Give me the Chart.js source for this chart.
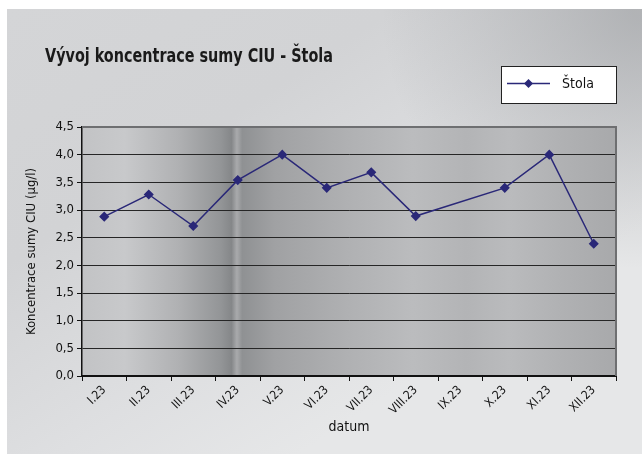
<!DOCTYPE html>
<html>
<head>
<meta charset="utf-8">
<script src="https://cdn.jsdelivr.net/npm/chart.js@4"></script>
<style>
  html, body { margin: 0; padding: 0; background: #fff; }
  #wrap { width: 642px; height: 454px; }
</style>
</head>
<body>
<div id="wrap"><canvas id="chart" width="642" height="454"></canvas></div>
<script>
const months = ['I.23', 'II.23', 'III.23', 'IV.23', 'V.23', 'VI.23', 'VII.23', 'VIII.23', 'IX.23', 'X.23', 'XI.23', 'XII.23'];
const stolaValues = [2.88, 3.28, 2.71, 3.54, 4.0, 3.4, 3.68, 2.89, null, 3.4, 4.0, 2.39];
const seriesName = 'Štola';
const chartTitle = 'Vývoj koncentrace sumy CIU - Štola';

const FONT = "'Liberation Sans Narrow', 'DejaVu Sans Condensed', sans-serif";
const LINE = '#2a2878';

// background, plot gradient, title and the boxed legend
const decor = {
    id: 'decor',
    beforeDraw(chart) {
        const { ctx, chartArea: a } = chart;
        ctx.save();
        ctx.fillStyle = '#fff';
        ctx.fillRect(0, 0, chart.width, chart.height);

        const bg = ctx.createLinearGradient(7, 9, 300, 454);
        bg.addColorStop(0, '#d4d5d7');
        bg.addColorStop(0.4, '#d2d3d5');
        bg.addColorStop(0.75, '#dedfe1');
        bg.addColorStop(1, '#e6e7e8');
        ctx.fillStyle = bg;
        ctx.fillRect(7, 9, 635, 445);
        const tr = ctx.createRadialGradient(642, 9, 10, 642, 9, 260);
        tr.addColorStop(0, 'rgba(160,162,165,0.7)');
        tr.addColorStop(1, 'rgba(160,162,165,0)');
        ctx.fillStyle = tr;
        ctx.fillRect(7, 9, 635, 445);

        const g = ctx.createLinearGradient(a.left, 0, a.right, 0);
        g.addColorStop(0.0, '#c2c3c5');
        g.addColorStop(0.08, '#c8c9cb');
        g.addColorStop(0.18, '#b0b1b3');
        g.addColorStop(0.26, '#939597');
        g.addColorStop(0.28, '#858789');
        g.addColorStop(0.29, '#a9aaac');
        g.addColorStop(0.3, '#8f9193');
        g.addColorStop(0.36, '#a0a1a3');
        g.addColorStop(0.5, '#b0b1b3');
        g.addColorStop(0.62, '#bbbcbe');
        g.addColorStop(0.72, '#b3b4b6');
        g.addColorStop(0.8, '#babbbd');
        g.addColorStop(0.9, '#b0b1b3');
        g.addColorStop(1, '#a8a9ab');
        ctx.fillStyle = g;
        ctx.fillRect(a.left, a.top, a.right - a.left, a.bottom - a.top);
        ctx.restore();
    },
    afterDraw(chart) {
        const { ctx, chartArea: a } = chart;
        ctx.save();
        // plot border on top/right
        ctx.strokeStyle = '#6e6f71';
        ctx.lineWidth = 2;
        ctx.beginPath();
        ctx.moveTo(a.left, a.top);
        ctx.lineTo(a.right, a.top);
        ctx.lineTo(a.right, a.bottom);
        ctx.stroke();

        // title, squeezed to the condensed width of the original
        ctx.fillStyle = '#1a1a1a';
        ctx.font = 'bold 19px ' + FONT;
        ctx.textBaseline = 'middle';
        ctx.textAlign = 'left';
        const w = ctx.measureText(chartTitle).width;
        ctx.save();
        ctx.translate(45, 57);
        ctx.scale(Math.min(1, 288 / w), 1);
        ctx.fillText(chartTitle, 0, 0);
        ctx.restore();

        // legend box
        ctx.fillStyle = '#fff';
        ctx.fillRect(501, 66, 115, 37);
        ctx.strokeStyle = '#222';
        ctx.lineWidth = 1;
        ctx.strokeRect(501.5, 66.5, 115, 37);
        ctx.strokeStyle = LINE;
        ctx.lineWidth = 1.5;
        ctx.beginPath();
        ctx.moveTo(507, 83.5);
        ctx.lineTo(550, 83.5);
        ctx.stroke();
        ctx.fillStyle = LINE;
        ctx.beginPath();
        ctx.moveTo(528.5, 79);
        ctx.lineTo(533, 83.5);
        ctx.lineTo(528.5, 88);
        ctx.lineTo(524, 83.5);
        ctx.closePath();
        ctx.fill();
        ctx.fillStyle = '#111';
        ctx.font = '14px ' + FONT;
        ctx.fillText(seriesName, 562, 84);
        ctx.restore();
    }
};

new Chart(document.getElementById('chart'), {
    type: 'line',
    data: {
        labels: months,
        datasets: [{
            label: seriesName,
            data: stolaValues,
            borderColor: LINE,
            backgroundColor: LINE,
            borderWidth: 1.5,
            pointStyle: 'rectRot',
            pointRadius: 4,
            pointHoverRadius: 4,
            spanGaps: true,
            tension: 0
        }]
    },
    options: {
        responsive: false,
        animation: false,
        layout: { padding: { left: 10, right: 26, top: 127, bottom: 0 } },
        plugins: {
            legend: { display: false },
            title: { display: false },
            tooltip: { enabled: false }
        },
        scales: {
            x: {
                offset: true,
                afterFit: s => { s.height = 78; },
                grid: {
                    offset: true,
                    drawOnChartArea: false,
                    drawTicks: true,
                    tickLength: 5,
                    color: '#111'
                },
                border: { display: true, color: '#111', width: 2 },
                ticks: {
                    color: '#111',
                    font: { family: FONT, size: 12 },
                    minRotation: 45,
                    maxRotation: 45,
                    autoSkip: false,
                    padding: 2
                },
                title: {
                    display: true,
                    text: 'datum',
                    color: '#111',
                    font: { family: FONT, size: 14 },
                    padding: { top: 0, bottom: 18 }
                }
            },
            y: {
                min: 0,
                max: 4.5,
                afterFit: s => { s.width = 72; },
                grid: {
                    color: ctx => ctx.tick && ctx.tick.value === 4.5 ? 'rgba(0,0,0,0)' : '#262626',
                    lineWidth: 1,
                    tickLength: 5,
                    tickColor: '#111'
                },
                border: { display: true, color: '#111', width: 1.5 },
                ticks: {
                    stepSize: 0.5,
                    color: '#111',
                    padding: 3,
                    font: { family: FONT, size: 13 },
                    callback: v => v.toFixed(1).replace('.', ',')
                },
                title: {
                    display: true,
                    text: 'Koncentrace sumy CIU (µg/l)',
                    color: '#111',
                    font: { family: FONT, size: 13 },
                    padding: { top: 14, bottom: 0 }
                }
            }
        }
    },
    plugins: [decor]
});
</script>
</body>
</html>
